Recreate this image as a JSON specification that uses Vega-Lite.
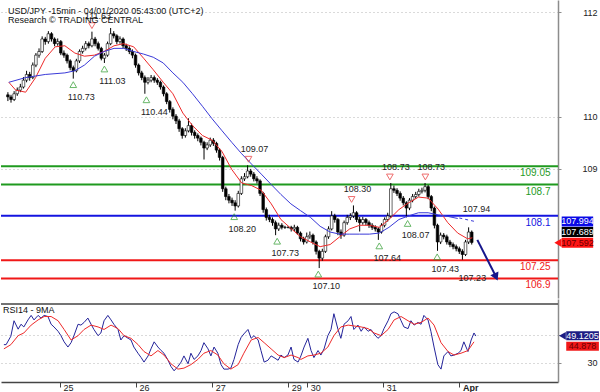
{
"$schema":"https://vega.github.io/schema/vega-lite/v6.json",
"padding":0,
"spacing":1,
"background":"white",
"config":{"view":{"stroke":null},"font":"Liberation Sans","axis":{"labelFont":"Liberation Sans","labelFontSize":9,"labelColor":"#222222","domainColor":"#8c8c8c","tickColor":"#8c8c8c","gridColor":"#b4b4b4","gridDash":[1,3]},"text":{"font":"Liberation Sans"}},
"datasets":{
"candles":[
{"t":-18,"o":110.42,"h":110.47,"l":110.30,"c":110.38},{"t":-17,"o":110.38,"h":110.42,"l":110.27,"c":110.33},{"t":-16,"o":110.33,"h":110.49,"l":110.30,"c":110.44},{"t":-15,"o":110.44,"h":110.56,"l":110.40,"c":110.51},{"t":-14,"o":110.51,"h":110.63,"l":110.47,"c":110.57},{"t":-13,"o":110.57,"h":110.76,"l":110.54,"c":110.70},{"t":-12,"o":110.70,"h":110.88,"l":110.66,"c":110.81},{"t":-11,"o":110.81,"h":110.86,"l":110.69,"c":110.75},{"t":-10,"o":110.75,"h":111.04,"l":110.72,"c":110.99},{"t":-9,"o":110.99,"h":111.22,"l":110.95,"c":111.18},{"t":-8,"o":111.18,"h":111.31,"l":111.13,"c":111.25},{"t":-7,"o":111.25,"h":111.54,"l":111.22,"c":111.49},{"t":-6,"o":111.49,"h":111.53,"l":111.38,"c":111.44},{"t":-5,"o":111.44,"h":111.64,"l":111.40,"c":111.59},{"t":-4,"o":111.59,"h":111.62,"l":111.44,"c":111.49},{"t":-3,"o":111.49,"h":111.52,"l":111.35,"c":111.40},{"t":-2,"o":111.40,"h":111.50,"l":111.36,"c":111.44},{"t":-1,"o":111.44,"h":111.47,"l":111.18,"c":111.22},
{"t":0,"o":111.22,"h":111.27,"l":111.13,"c":111.18},{"t":1,"o":111.18,"h":111.21,"l":111.02,"c":111.07},{"t":2,"o":111.07,"h":111.10,"l":110.89,"c":110.94},{"t":3,"o":110.94,"h":110.98,"l":110.73,"c":110.88},{"t":4,"o":110.88,"h":111.11,"l":110.85,"c":111.07},{"t":5,"o":111.07,"h":111.29,"l":111.03,"c":111.25},{"t":6,"o":111.25,"h":111.36,"l":111.21,"c":111.31},{"t":7,"o":111.31,"h":111.45,"l":111.27,"c":111.40},{"t":8,"o":111.40,"h":111.44,"l":111.31,"c":111.36},{"t":9,"o":111.36,"h":111.63,"l":111.33,"c":111.49},{"t":10,"o":111.49,"h":111.53,"l":111.35,"c":111.40},{"t":11,"o":111.40,"h":111.44,"l":111.27,"c":111.31},{"t":12,"o":111.31,"h":111.34,"l":111.08,"c":111.12},{"t":13,"o":111.12,"h":111.22,"l":111.03,"c":111.18},{"t":14,"o":111.18,"h":111.44,"l":111.15,"c":111.40},{"t":15,"o":111.40,"h":111.70,"l":111.37,"c":111.59},{"t":16,"o":111.59,"h":111.64,"l":111.50,"c":111.55},{"t":17,"o":111.55,"h":111.58,"l":111.39,"c":111.44},{"t":18,"o":111.44,"h":111.54,"l":111.40,"c":111.49},{"t":19,"o":111.49,"h":111.52,"l":111.31,"c":111.36},
{"t":20,"o":111.36,"h":111.40,"l":111.26,"c":111.31},{"t":21,"o":111.31,"h":111.35,"l":111.20,"c":111.25},{"t":22,"o":111.25,"h":111.29,"l":111.12,"c":111.18},{"t":23,"o":111.18,"h":111.21,"l":110.94,"c":110.99},{"t":24,"o":110.99,"h":111.02,"l":110.79,"c":110.84},{"t":25,"o":110.84,"h":110.88,"l":110.70,"c":110.75},{"t":26,"o":110.75,"h":110.79,"l":110.44,"c":110.66},{"t":27,"o":110.66,"h":110.76,"l":110.62,"c":110.70},{"t":28,"o":110.70,"h":110.80,"l":110.66,"c":110.75},{"t":29,"o":110.75,"h":110.79,"l":110.65,"c":110.70},{"t":30,"o":110.70,"h":110.74,"l":110.61,"c":110.66},{"t":31,"o":110.66,"h":110.69,"l":110.52,"c":110.57},{"t":32,"o":110.57,"h":110.60,"l":110.39,"c":110.44},{"t":33,"o":110.44,"h":110.47,"l":110.24,"c":110.29},{"t":34,"o":110.29,"h":110.32,"l":110.08,"c":110.14},{"t":35,"o":110.14,"h":110.18,"l":109.95,"c":110.01},{"t":36,"o":110.01,"h":110.05,"l":109.86,"c":109.92},{"t":37,"o":109.92,"h":109.96,"l":109.71,"c":109.77},{"t":38,"o":109.77,"h":109.80,"l":109.58,"c":109.64},{"t":39,"o":109.64,"h":109.78,"l":109.60,"c":109.73},
{"t":40,"o":109.73,"h":109.97,"l":109.70,"c":109.83},{"t":41,"o":109.83,"h":109.87,"l":109.64,"c":109.70},{"t":42,"o":109.70,"h":109.74,"l":109.58,"c":109.64},{"t":43,"o":109.64,"h":109.68,"l":109.53,"c":109.59},{"t":44,"o":109.59,"h":109.62,"l":109.45,"c":109.51},{"t":45,"o":109.51,"h":109.54,"l":109.18,"c":109.40},{"t":46,"o":109.40,"h":109.51,"l":109.36,"c":109.46},{"t":47,"o":109.46,"h":109.60,"l":109.42,"c":109.55},{"t":48,"o":109.55,"h":109.59,"l":109.44,"c":109.49},{"t":49,"o":109.49,"h":109.52,"l":109.31,"c":109.36},{"t":50,"o":109.36,"h":109.40,"l":109.16,"c":109.22},{"t":51,"o":109.22,"h":109.25,"l":108.56,"c":108.62},{"t":52,"o":108.62,"h":108.66,"l":108.40,"c":108.47},{"t":53,"o":108.47,"h":108.52,"l":108.34,"c":108.40},{"t":54,"o":108.40,"h":108.45,"l":108.29,"c":108.35},{"t":55,"o":108.35,"h":108.40,"l":108.20,"c":108.29},{"t":56,"o":108.29,"h":108.58,"l":108.26,"c":108.53},{"t":57,"o":108.53,"h":108.86,"l":108.50,"c":108.81},{"t":58,"o":108.81,"h":108.92,"l":108.77,"c":108.85},{"t":59,"o":108.85,"h":109.07,"l":108.82,"c":108.96},
{"t":60,"o":108.96,"h":109.00,"l":108.85,"c":108.90},{"t":61,"o":108.90,"h":108.94,"l":108.76,"c":108.81},{"t":62,"o":108.81,"h":108.86,"l":108.72,"c":108.77},{"t":63,"o":108.77,"h":108.80,"l":108.48,"c":108.53},{"t":64,"o":108.53,"h":108.56,"l":108.16,"c":108.22},{"t":65,"o":108.22,"h":108.26,"l":108.01,"c":108.07},{"t":66,"o":108.07,"h":108.12,"l":107.98,"c":108.03},{"t":67,"o":108.03,"h":108.07,"l":107.91,"c":107.97},{"t":68,"o":107.97,"h":108.01,"l":107.73,"c":107.85},{"t":69,"o":107.85,"h":107.97,"l":107.81,"c":107.92},{"t":70,"o":107.92,"h":107.96,"l":107.84,"c":107.88},{"t":71,"o":107.88,"h":107.91,"l":107.85,"c":107.88},{"t":72,"o":107.88,"h":107.90,"l":107.86,"c":107.88},{"t":73,"o":107.88,"h":107.91,"l":107.80,"c":107.85},{"t":74,"o":107.85,"h":107.93,"l":107.81,"c":107.88},{"t":75,"o":107.88,"h":107.91,"l":107.74,"c":107.77},{"t":76,"o":107.77,"h":107.80,"l":107.61,"c":107.66},{"t":77,"o":107.66,"h":107.70,"l":107.55,"c":107.60},{"t":78,"o":107.60,"h":107.78,"l":107.57,"c":107.70},{"t":79,"o":107.70,"h":107.80,"l":107.66,"c":107.73},
{"t":80,"o":107.73,"h":107.76,"l":107.55,"c":107.60},{"t":81,"o":107.60,"h":107.63,"l":107.36,"c":107.42},{"t":82,"o":107.42,"h":107.45,"l":107.10,"c":107.29},{"t":83,"o":107.29,"h":107.47,"l":107.24,"c":107.42},{"t":84,"o":107.42,"h":107.74,"l":107.39,"c":107.70},{"t":85,"o":107.70,"h":107.90,"l":107.66,"c":107.85},{"t":86,"o":107.85,"h":108.19,"l":107.82,"c":108.10},{"t":87,"o":108.10,"h":108.14,"l":107.97,"c":108.03},{"t":88,"o":108.03,"h":108.06,"l":107.73,"c":107.79},{"t":89,"o":107.79,"h":107.84,"l":107.66,"c":107.73},{"t":90,"o":107.73,"h":108.01,"l":107.70,"c":107.97},{"t":91,"o":107.97,"h":108.12,"l":107.93,"c":108.07},{"t":92,"o":108.07,"h":108.15,"l":108.02,"c":108.10},{"t":93,"o":108.10,"h":108.30,"l":108.06,"c":108.16},{"t":94,"o":108.16,"h":108.19,"l":107.98,"c":108.03},{"t":95,"o":108.03,"h":108.08,"l":107.80,"c":107.97},{"t":96,"o":107.97,"h":108.08,"l":107.93,"c":108.03},{"t":97,"o":108.03,"h":108.06,"l":107.92,"c":107.97},{"t":98,"o":107.97,"h":108.01,"l":107.87,"c":107.92},{"t":99,"o":107.92,"h":107.96,"l":107.83,"c":107.88},
{"t":100,"o":107.88,"h":107.92,"l":107.80,"c":107.85},{"t":101,"o":107.85,"h":107.88,"l":107.64,"c":107.79},{"t":102,"o":107.79,"h":107.96,"l":107.76,"c":107.92},{"t":103,"o":107.92,"h":108.07,"l":107.88,"c":108.03},{"t":104,"o":108.03,"h":108.16,"l":107.99,"c":108.10},{"t":105,"o":108.10,"h":108.73,"l":108.06,"c":108.62},{"t":106,"o":108.62,"h":108.68,"l":108.54,"c":108.59},{"t":107,"o":108.59,"h":108.63,"l":108.48,"c":108.53},{"t":108,"o":108.53,"h":108.57,"l":108.39,"c":108.44},{"t":109,"o":108.44,"h":108.48,"l":108.30,"c":108.35},{"t":110,"o":108.35,"h":108.38,"l":108.07,"c":108.25},{"t":111,"o":108.25,"h":108.44,"l":108.21,"c":108.40},{"t":112,"o":108.40,"h":108.52,"l":108.36,"c":108.47},{"t":113,"o":108.47,"h":108.56,"l":108.43,"c":108.51},{"t":114,"o":108.51,"h":108.62,"l":108.47,"c":108.57},{"t":115,"o":108.57,"h":108.64,"l":108.53,"c":108.59},{"t":116,"o":108.59,"h":108.73,"l":108.55,"c":108.66},{"t":117,"o":108.66,"h":108.69,"l":108.42,"c":108.47},{"t":118,"o":108.47,"h":108.50,"l":108.19,"c":108.25},{"t":119,"o":108.25,"h":108.28,"l":107.86,"c":107.92},
{"t":120,"o":107.92,"h":107.95,"l":107.43,"c":107.60},{"t":121,"o":107.60,"h":107.78,"l":107.56,"c":107.73},{"t":122,"o":107.73,"h":107.77,"l":107.65,"c":107.70},{"t":123,"o":107.70,"h":107.74,"l":107.55,"c":107.60},{"t":124,"o":107.60,"h":107.64,"l":107.50,"c":107.55},{"t":125,"o":107.55,"h":107.59,"l":107.46,"c":107.51},{"t":126,"o":107.51,"h":107.55,"l":107.42,"c":107.47},{"t":127,"o":107.47,"h":107.51,"l":107.37,"c":107.42},{"t":128,"o":107.42,"h":107.46,"l":107.26,"c":107.36},{"t":129,"o":107.36,"h":107.64,"l":107.33,"c":107.60},{"t":130,"o":107.60,"h":107.88,"l":107.56,"c":107.79},{"t":131,"o":107.79,"h":107.82,"l":107.55,"c":107.59}
],
"redma":[{"t":-17.7,"p":110.66},{"t":-15.5,"p":110.51},{"t":-12.3,"p":110.47},{"t":-9.1,"p":110.75},{"t":-6.0,"p":111.12},{"t":-2.8,"p":111.34},{"t":0.3,"p":111.36},{"t":3.5,"p":111.22},{"t":6.6,"p":111.16},{"t":9.8,"p":111.18},{"t":12.9,"p":111.25},{"t":16.1,"p":111.36},{"t":19.2,"p":111.40},{"t":22.4,"p":111.34},{"t":25.6,"p":111.12},{"t":28.7,"p":110.90},{"t":31.9,"p":110.66},{"t":35.0,"p":110.44},{"t":38.2,"p":110.07},{"t":41.3,"p":109.83},{"t":44.5,"p":109.64},{"t":47.6,"p":109.55},{"t":50.8,"p":109.33},{"t":53.9,"p":108.99},{"t":57.1,"p":108.73},{"t":60.3,"p":108.68},{"t":63.4,"p":108.59},{"t":66.6,"p":108.33},{"t":69.7,"p":108.03},{"t":72.9,"p":107.86},{"t":76.0,"p":107.70},{"t":79.2,"p":107.60},{"t":82.3,"p":107.51},{"t":85.5,"p":107.55},{"t":88.6,"p":107.70},{"t":91.8,"p":107.85},{"t":95.0,"p":107.92},{"t":98.1,"p":107.92},{"t":101.3,"p":107.88},{"t":104.4,"p":108.03},{"t":107.6,"p":108.22},{"t":110.7,"p":108.35},{"t":113.9,"p":108.46},{"t":117.0,"p":108.44},{"t":120.2,"p":108.23},{"t":123.3,"p":107.97},{"t":126.5,"p":107.77},{"t":129.7,"p":107.66},{"t":131.2,"p":107.68}],
"bluema":[{"t":-17.7,"p":110.66},{"t":-12.3,"p":110.75},{"t":-6.0,"p":110.81},{"t":0.3,"p":110.84},{"t":3.5,"p":110.88},{"t":6.6,"p":110.99},{"t":9.8,"p":111.16},{"t":12.9,"p":111.25},{"t":16.1,"p":111.31},{"t":19.2,"p":111.31},{"t":22.4,"p":111.25},{"t":25.6,"p":111.20},{"t":28.7,"p":111.14},{"t":31.9,"p":111.03},{"t":35.0,"p":110.84},{"t":38.2,"p":110.66},{"t":41.3,"p":110.44},{"t":44.5,"p":110.20},{"t":47.6,"p":109.96},{"t":50.8,"p":109.73},{"t":53.9,"p":109.51},{"t":57.1,"p":109.29},{"t":60.3,"p":109.09},{"t":63.4,"p":108.90},{"t":66.6,"p":108.70},{"t":69.7,"p":108.51},{"t":72.9,"p":108.33},{"t":76.0,"p":108.20},{"t":79.2,"p":108.07},{"t":82.3,"p":107.90},{"t":85.5,"p":107.79},{"t":88.6,"p":107.75},{"t":91.8,"p":107.75},{"t":95.0,"p":107.75},{"t":98.1,"p":107.75},{"t":101.3,"p":107.77},{"t":104.4,"p":107.88},{"t":107.6,"p":108.03},{"t":110.7,"p":108.10},{"t":113.9,"p":108.16},{"t":117.0,"p":108.16},{"t":120.2,"p":108.12},{"t":123.3,"p":108.09},{"t":126.5,"p":108.05}],
"blueproj":[{"t":127.0,"p":108.06},{"t":132.2,"p":107.99}],
"levels":[{"p":109.05,"kind":"resistance","label":"109.05"},{"p":108.7,"kind":"resistance","label":"108.7"},{"p":108.1,"kind":"pivot","label":"108.1"},{"p":107.25,"kind":"support","label":"107.25"},{"p":106.9,"kind":"support","label":"106.9"}],
"lows":[{"t":3,"p":110.73,"label":"110.73"},{"t":13,"p":111.03,"label":"111.03"},{"t":26.5,"p":110.44,"label":"110.44"},{"t":54.7,"p":108.20,"label":"108.20"},{"t":68.5,"p":107.73,"label":"107.73"},{"t":81.7,"p":107.10,"label":"107.10"},{"t":101.3,"p":107.64,"label":"107.64"},{"t":110.4,"p":108.07,"label":"108.07"},{"t":119.9,"p":107.43,"label":"107.43"}],
"highs":[{"t":9,"p":111.63,"label":"111.63"},{"t":59.3,"p":109.07,"label":"109.07"},{"t":92.4,"p":108.30,"label":"108.30"},{"t":104.7,"p":108.73,"label":"108.73"},{"t":116.1,"p":108.73,"label":"108.73"}],
"targets":[{"t":132.5,"p":108.23,"label":"107.94"},{"t":131.2,"p":106.90,"label":"107.23"}],
"arrow":[{"t":132.8,"p":107.64,"t2":138.4,"p2":106.98}],
"arrowhead":[{"t":138.8,"p":106.93}],
"titles":[{"t":-18.0,"p":112.03,"text":"USD/JPY -15min - 04/01/2020 05:43:00 (UTC+2)"},{"t":-18.0,"p":111.845,"text":"Research © TRADING CENTRAL"}],
"mainboxes":[{"value":"107.994","at":107.994,"kind":"ma_slow"},{"value":"107.689","at":107.79,"kind":"ma_fast"},{"value":"107.592","at":107.585,"kind":"price"}],
"rsi":[{"t":-17.7,"r":43},{"t":-17.0,"r":43},{"t":-15.5,"r":49},{"t":-14.5,"r":60},{"t":-13.2,"r":54},{"t":-12.3,"r":57.5},{"t":-11.4,"r":55.6},{"t":-10.1,"r":60.6},{"t":-9.1,"r":63.8},{"t":-8.2,"r":60.6},{"t":-6.9,"r":63.8},{"t":-6.0,"r":61.9},{"t":-5.0,"r":63.8},{"t":-3.8,"r":63},{"t":-2.8,"r":57.5},{"t":-1.9,"r":55.6},{"t":-0.6,"r":52.5},{"t":0.3,"r":49.4},{"t":1.3,"r":45},{"t":2.5,"r":41.3},{"t":3.5,"r":44.4},{"t":4.4,"r":49.4},{"t":5.7,"r":57.5},{"t":6.6,"r":56.9},{"t":7.6,"r":58.8},{"t":8.8,"r":61.9},{"t":9.8,"r":57.5},{"t":10.7,"r":53.8},{"t":12.0,"r":49.4},{"t":12.9,"r":51.3},{"t":13.9,"r":60},{"t":15.1,"r":63.8},{"t":16.1,"r":60.6},{"t":17.0,"r":57.5},{"t":18.3,"r":53.8},{"t":19.2,"r":46.3},{"t":20.2,"r":49.4},{"t":21.5,"r":47.5},{"t":22.4,"r":46.3},{"t":23.3,"r":41.3},{"t":24.6,"r":36.9},{"t":25.6,"r":33.8},{"t":26.5,"r":30.6},{"t":27.8,"r":35},{"t":28.7,"r":40},{"t":29.7,"r":45},{"t":30.9,"r":41.3},{"t":31.9,"r":38.8},{"t":32.8,"r":36.9},{"t":34.1,"r":31.9},{"t":35.0,"r":27.5},{"t":36.0,"r":24.4},{"t":37.2,"r":27.5},{"t":38.2,"r":30.6},{"t":39.1,"r":35},{"t":40.4,"r":29.4},{"t":41.3,"r":36.9},{"t":42.3,"r":32.5},{"t":43.5,"r":35},{"t":44.5,"r":38.8},{"t":45.4,"r":44.4},{"t":46.7,"r":40},{"t":47.6,"r":35},{"t":48.6,"r":41.3},{"t":49.8,"r":36.9},{"t":50.8,"r":28.8},{"t":51.7,"r":25.6},{"t":53.0,"r":25.6},{"t":53.9,"r":26.3},{"t":54.9,"r":32.5},{"t":56.2,"r":43},{"t":57.1,"r":48},{"t":58.0,"r":50.6},{"t":59.3,"r":53.8},{"t":60.3,"r":47.5},{"t":61.2,"r":49.4},{"t":62.5,"r":46.3},{"t":63.4,"r":38.8},{"t":64.4,"r":30.6},{"t":65.6,"r":31.9},{"t":66.6,"r":35},{"t":67.5,"r":33.8},{"t":68.8,"r":31.9},{"t":69.7,"r":35.6},{"t":70.7,"r":33.8},{"t":71.9,"r":35.6},{"t":72.9,"r":41.3},{"t":73.8,"r":32.5},{"t":75.1,"r":30.6},{"t":76.0,"r":35},{"t":77.0,"r":41.3},{"t":78.2,"r":47.5},{"t":79.2,"r":38.8},{"t":80.1,"r":33.8},{"t":81.4,"r":38.8},{"t":82.3,"r":35.6},{"t":83.3,"r":40},{"t":84.5,"r":49.4},{"t":85.5,"r":53.8},{"t":86.4,"r":65},{"t":87.7,"r":53.8},{"t":88.6,"r":47.5},{"t":89.6,"r":57.5},{"t":90.9,"r":60},{"t":91.8,"r":63},{"t":92.7,"r":53.8},{"t":94.0,"r":56.9},{"t":95.0,"r":52.5},{"t":95.9,"r":55.6},{"t":97.2,"r":52.5},{"t":98.1,"r":53.8},{"t":99.1,"r":50.6},{"t":100.3,"r":47.5},{"t":101.3,"r":49.4},{"t":102.2,"r":54.4},{"t":103.5,"r":60},{"t":104.4,"r":65},{"t":105.4,"r":66.3},{"t":106.6,"r":65},{"t":107.6,"r":60},{"t":108.5,"r":55.6},{"t":109.8,"r":54.4},{"t":110.7,"r":60},{"t":111.7,"r":56.9},{"t":112.9,"r":58.8},{"t":113.9,"r":57.5},{"t":114.8,"r":63.8},{"t":116.1,"r":60.6},{"t":117.0,"r":52.5},{"t":118.0,"r":41.3},{"t":119.2,"r":28.8},{"t":120.2,"r":25.6},{"t":121.1,"r":35},{"t":122.4,"r":38.1},{"t":123.3,"r":35},{"t":124.3,"r":35.6},{"t":125.6,"r":36.9},{"t":126.5,"r":38.8},{"t":127.4,"r":45},{"t":128.7,"r":38.1},{"t":129.7,"r":46.3},{"t":130.6,"r":51.3},{"t":131.2,"r":49.1}],
"rsima":[{"t":-17.7,"r":40},{"t":-15.5,"r":43},{"t":-13.2,"r":49.4},{"t":-11.4,"r":51.3},{"t":-9.1,"r":56.9},{"t":-6.9,"r":60.6},{"t":-5.0,"r":63},{"t":-2.8,"r":63},{"t":-0.6,"r":60},{"t":1.3,"r":53.8},{"t":3.5,"r":46.3},{"t":5.7,"r":49.4},{"t":7.6,"r":53.8},{"t":9.8,"r":56.9},{"t":12.0,"r":55.6},{"t":13.9,"r":53.8},{"t":16.1,"r":56.9},{"t":18.3,"r":54.4},{"t":20.2,"r":49.4},{"t":22.4,"r":47.5},{"t":24.6,"r":43.1},{"t":26.5,"r":38.1},{"t":28.7,"r":35},{"t":30.9,"r":38.8},{"t":32.8,"r":35.6},{"t":35.0,"r":29.4},{"t":37.2,"r":25.6},{"t":39.1,"r":26.3},{"t":41.3,"r":28.8},{"t":43.5,"r":32.5},{"t":45.4,"r":36.9},{"t":47.6,"r":38.8},{"t":49.8,"r":35.6},{"t":51.7,"r":29.4},{"t":53.9,"r":25.6},{"t":56.2,"r":28.8},{"t":58.0,"r":36.9},{"t":60.3,"r":46.3},{"t":62.5,"r":48.1},{"t":64.4,"r":44.4},{"t":66.6,"r":40},{"t":68.8,"r":35.6},{"t":70.7,"r":33.8},{"t":72.9,"r":35.6},{"t":75.1,"r":33.8},{"t":76.0,"r":32.5},{"t":78.2,"r":35},{"t":80.1,"r":35.6},{"t":82.3,"r":36.9},{"t":84.5,"r":41.3},{"t":86.4,"r":49.4},{"t":88.6,"r":55.6},{"t":90.9,"r":56.9},{"t":92.7,"r":56.3},{"t":95.0,"r":55.6},{"t":97.2,"r":54.4},{"t":99.1,"r":51.3},{"t":101.3,"r":49.4},{"t":103.5,"r":53.8},{"t":105.4,"r":60.6},{"t":107.6,"r":63},{"t":109.8,"r":60},{"t":111.7,"r":57.5},{"t":113.9,"r":58.8},{"t":116.1,"r":61.9},{"t":118.0,"r":56.9},{"t":120.2,"r":44.4},{"t":122.4,"r":38.1},{"t":124.3,"r":35.6},{"t":126.5,"r":36.9},{"t":128.7,"r":38.8},{"t":130.6,"r":45}],
"rsiboxes":[{"value":"49.1205","at":49.3,"kind":"rsi"},{"value":"44.878","at":41.9,"kind":"rsima"}],
"one":[{}]
},
"vconcat":[
{"width":557,"height":298,"layer":[
{"data":{"name":"levels"},"mark":{"type":"rule","strokeWidth":2},"encoding":{
"y":{"field":"p","type":"quantitative","scale":{"domain":[106.622,112.141],"nice":false,"zero":false},"axis":{"orient":"right","values":[109,110,112],"grid":true,"tickSize":3,"labelAlign":"right","labelPadding":36,"labelBaseline":"middle","title":null,"domainColor":"#8c8c8c","domainWidth":1.5}},
"color":{"field":"kind","type":"nominal","scale":{"domain":["resistance","pivot","support","ma_slow","ma_fast","price","rsi","rsima"],"range":["#1f9a1f","#1414e0","#f01818","#0a0ae6","#000000","#ff1414","#1c1c84","#f01818"]},"legend":null}}},
{"data":{"name":"levels"},"mark":{"type":"text","align":"right","baseline":"middle","dy":7,"fontSize":10},"encoding":{
"x":{"datum":156.3,"type":"quantitative","scale":{"domain":[-18.61,157.1],"nice":false,"zero":false},"axis":null},
"y":{"field":"p","type":"quantitative","scale":{"domain":[106.622,112.141],"nice":false,"zero":false}},
"text":{"field":"label"},
"color":{"field":"kind","type":"nominal","scale":{"domain":["resistance","pivot","support","ma_slow","ma_fast","price","rsi","rsima"],"range":["#1f9a1f","#1414e0","#f01818","#0a0ae6","#000000","#ff1414","#1c1c84","#f01818"]},"legend":null}}},
{"data":{"name":"candles"},"mark":{"type":"rule","color":"#000000","strokeWidth":1},"encoding":{
"x":{"field":"t","type":"quantitative","scale":{"domain":[-18.61,157.1],"nice":false,"zero":false},"axis":null},
"y":{"field":"l","type":"quantitative","scale":{"domain":[106.622,112.141],"nice":false,"zero":false}},
"y2":{"field":"h"}}},
{"data":{"name":"candles"},"mark":{"type":"bar","size":2.6,"stroke":"#000000","strokeWidth":0.6},"encoding":{
"x":{"field":"t","type":"quantitative","scale":{"domain":[-18.61,157.1],"nice":false,"zero":false},"axis":null},
"y":{"field":"o","type":"quantitative","scale":{"domain":[106.622,112.141],"nice":false,"zero":false}},
"y2":{"field":"c"},
"fill":{"condition":{"test":"datum.c >= datum.o","value":"#ffffff"},"value":"#000000"}}},
{"data":{"name":"redma"},"mark":{"type":"line","color":"#ee2a2a","strokeWidth":1},"encoding":{
"x":{"field":"t","type":"quantitative","scale":{"domain":[-18.61,157.1],"nice":false,"zero":false},"axis":null},
"y":{"field":"p","type":"quantitative","scale":{"domain":[106.622,112.141],"nice":false,"zero":false}}}},
{"data":{"name":"bluema"},"mark":{"type":"line","color":"#3a3ad8","strokeWidth":1},"encoding":{
"x":{"field":"t","type":"quantitative","scale":{"domain":[-18.61,157.1],"nice":false,"zero":false},"axis":null},
"y":{"field":"p","type":"quantitative","scale":{"domain":[106.622,112.141],"nice":false,"zero":false}}}},
{"data":{"name":"blueproj"},"mark":{"type":"line","color":"#3a3ad8","strokeWidth":1,"strokeDash":[3,3]},"encoding":{
"x":{"field":"t","type":"quantitative","scale":{"domain":[-18.61,157.1],"nice":false,"zero":false},"axis":null},
"y":{"field":"p","type":"quantitative","scale":{"domain":[106.622,112.141],"nice":false,"zero":false}}}},
{"data":{"name":"lows"},"mark":{"type":"point","shape":"triangle-up","filled":false,"stroke":"#2a9a2a","strokeWidth":1,"size":45,"yOffset":6},"encoding":{
"x":{"field":"t","type":"quantitative","scale":{"domain":[-18.61,157.1],"nice":false,"zero":false},"axis":null},
"y":{"field":"p","type":"quantitative","scale":{"domain":[106.622,112.141],"nice":false,"zero":false}}}},
{"data":{"name":"lows"},"mark":{"type":"text","fontSize":9,"dx":8,"dy":18,"color":"#222222","baseline":"middle"},"encoding":{
"x":{"field":"t","type":"quantitative","scale":{"domain":[-18.61,157.1],"nice":false,"zero":false},"axis":null},
"y":{"field":"p","type":"quantitative","scale":{"domain":[106.622,112.141],"nice":false,"zero":false}},
"text":{"field":"label"}}},
{"data":{"name":"highs"},"mark":{"type":"point","shape":"triangle-down","filled":false,"stroke":"#e83030","strokeWidth":1,"size":45,"yOffset":-6},"encoding":{
"x":{"field":"t","type":"quantitative","scale":{"domain":[-18.61,157.1],"nice":false,"zero":false},"axis":null},
"y":{"field":"p","type":"quantitative","scale":{"domain":[106.622,112.141],"nice":false,"zero":false}}}},
{"data":{"name":"highs"},"mark":{"type":"text","fontSize":9,"dx":6,"dy":-16,"color":"#222222","baseline":"middle"},"encoding":{
"x":{"field":"t","type":"quantitative","scale":{"domain":[-18.61,157.1],"nice":false,"zero":false},"axis":null},
"y":{"field":"p","type":"quantitative","scale":{"domain":[106.622,112.141],"nice":false,"zero":false}},
"text":{"field":"label"}}},
{"data":{"name":"targets"},"mark":{"type":"text","fontSize":9,"color":"#222222","baseline":"middle"},"encoding":{
"x":{"field":"t","type":"quantitative","scale":{"domain":[-18.61,157.1],"nice":false,"zero":false},"axis":null},
"y":{"field":"p","type":"quantitative","scale":{"domain":[106.622,112.141],"nice":false,"zero":false}},
"text":{"field":"label"}}},
{"data":{"name":"arrow"},"mark":{"type":"rule","color":"#16168c","strokeWidth":2},"encoding":{
"x":{"field":"t","type":"quantitative","scale":{"domain":[-18.61,157.1],"nice":false,"zero":false},"axis":null},
"y":{"field":"p","type":"quantitative","scale":{"domain":[106.622,112.141],"nice":false,"zero":false}},
"x2":{"field":"t2"},"y2":{"field":"p2"}}},
{"data":{"name":"arrowhead"},"mark":{"type":"point","shape":"triangle-down","filled":true,"color":"#16168c","size":80,"angle":335,"opacity":1},"encoding":{
"x":{"field":"t","type":"quantitative","scale":{"domain":[-18.61,157.1],"nice":false,"zero":false},"axis":null},
"y":{"field":"p","type":"quantitative","scale":{"domain":[106.622,112.141],"nice":false,"zero":false}}}},
{"data":{"name":"mainboxes"},"mark":{"type":"bar","orient":"horizontal","size":10},"encoding":{
"x":{"datum":159.9,"type":"quantitative","scale":{"domain":[-18.61,157.1],"nice":false,"zero":false},"axis":null},
"x2":{"datum":170.0},
"y":{"field":"at","type":"quantitative","scale":{"domain":[106.622,112.141],"nice":false,"zero":false}},
"color":{"field":"kind","type":"nominal","scale":{"domain":["resistance","pivot","support","ma_slow","ma_fast","price","rsi","rsima"],"range":["#1f9a1f","#1414e0","#f01818","#0a0ae6","#000000","#ff1414","#1c1c84","#f01818"]},"legend":null}}},
{"data":{"name":"mainboxes"},"transform":[{"filter":"datum.kind === 'price'"}],"mark":{"type":"point","shape":"triangle-left","filled":true,"color":"#ff1414","size":70,"opacity":1},"encoding":{
"x":{"datum":158.7,"type":"quantitative","scale":{"domain":[-18.61,157.1],"nice":false,"zero":false},"axis":null},
"y":{"field":"at","type":"quantitative","scale":{"domain":[106.622,112.141],"nice":false,"zero":false}}}},
{"data":{"name":"mainboxes"},"mark":{"type":"text","fontSize":9,"align":"center","baseline":"middle"},"encoding":{
"x":{"datum":165.0,"type":"quantitative","scale":{"domain":[-18.61,157.1],"nice":false,"zero":false},"axis":null},
"y":{"field":"at","type":"quantitative","scale":{"domain":[106.622,112.141],"nice":false,"zero":false}},
"text":{"field":"value"},
"fill":{"condition":{"test":"datum.kind === 'price'","value":"#6a0000"},"value":"#ffffff"}}},
{"data":{"name":"titles"},"mark":{"type":"text","fontSize":9,"align":"left","baseline":"middle","color":"#111111"},"encoding":{
"x":{"field":"t","type":"quantitative","scale":{"domain":[-18.61,157.1],"nice":false,"zero":false},"axis":null},
"y":{"field":"p","type":"quantitative","scale":{"domain":[106.622,112.141],"nice":false,"zero":false}},
"text":{"field":"text"}}}
]},
{"width":557,"height":83,"layer":[
{"data":{"name":"rsi"},"mark":{"type":"line","color":"#24249a","strokeWidth":1},"encoding":{
"x":{"field":"t","type":"quantitative","scale":{"domain":[-18.61,157.1],"nice":false,"zero":false},"axis":{"orient":"bottom","values":[0,24,48,72,78,102,126],"labelExpr":"datum.value==0?'25':datum.value==24?'26':datum.value==48?'27':datum.value==72?'29':datum.value==78?'30':datum.value==102?'31':'Apr'","labelAlign":"left","labelOffset":3,"labelBaseline":"middle","labelPadding":0,"tickSize":5,"domainColor":"#444444","domainWidth":1.5,"tickColor":"#444444","grid":false,"labelOverlap":false,"labelFontSize":9,"labelFontWeight":{"condition":{"test":"datum.value==126","value":"bold"},"value":"normal"},"title":null}},
"y":{"field":"r","type":"quantitative","scale":{"domain":[20,71.9],"nice":false,"zero":false},"axis":{"orient":"right","values":[30,50],"grid":true,"labelExpr":"datum.value==50?'':datum.label","tickSize":3,"labelAlign":"right","labelPadding":36,"labelBaseline":"middle","title":null,"domainColor":"#8c8c8c","domainWidth":1.5}}}},
{"data":{"name":"rsima"},"mark":{"type":"line","color":"#ee2a2a","strokeWidth":1},"encoding":{
"x":{"field":"t","type":"quantitative","scale":{"domain":[-18.61,157.1],"nice":false,"zero":false}},
"y":{"field":"r","type":"quantitative","scale":{"domain":[20,71.9],"nice":false,"zero":false}}}},
{"data":{"name":"one"},"mark":{"type":"rule","color":"#444444","strokeWidth":1.5},"encoding":{
"y":{"datum":71.9,"type":"quantitative","scale":{"domain":[20,71.9],"nice":false,"zero":false}}}},
{"data":{"name":"one"},"mark":{"type":"text","fontSize":9,"align":"left","baseline":"middle","color":"#111111","text":"RSI14 - 9MA"},"encoding":{
"x":{"datum":-18.0,"type":"quantitative","scale":{"domain":[-18.61,157.1],"nice":false,"zero":false}},
"y":{"datum":67.5,"type":"quantitative","scale":{"domain":[20,71.9],"nice":false,"zero":false}}}},
{"data":{"name":"rsiboxes"},"mark":{"type":"bar","orient":"horizontal","size":9},"encoding":{
"x":{"datum":159.7,"type":"quantitative","scale":{"domain":[-18.61,157.1],"nice":false,"zero":false}},
"x2":{"datum":170.0},
"y":{"field":"at","type":"quantitative","scale":{"domain":[20,71.9],"nice":false,"zero":false}},
"color":{"field":"kind","type":"nominal","scale":{"domain":["resistance","pivot","support","ma_slow","ma_fast","price","rsi","rsima"],"range":["#1f9a1f","#1414e0","#f01818","#0a0ae6","#000000","#ff1414","#1c1c84","#f01818"]},"legend":null}}},
{"data":{"name":"rsiboxes"},"transform":[{"filter":"datum.kind === 'rsi'"}],"mark":{"type":"point","shape":"triangle-left","filled":true,"color":"#1c1c84","size":60,"opacity":1},"encoding":{
"x":{"datum":158.5,"type":"quantitative","scale":{"domain":[-18.61,157.1],"nice":false,"zero":false}},
"y":{"field":"at","type":"quantitative","scale":{"domain":[20,71.9],"nice":false,"zero":false}}}},
{"data":{"name":"rsiboxes"},"mark":{"type":"text","fontSize":9,"align":"center","baseline":"middle"},"encoding":{
"x":{"datum":164.8,"type":"quantitative","scale":{"domain":[-18.61,157.1],"nice":false,"zero":false}},
"y":{"field":"at","type":"quantitative","scale":{"domain":[20,71.9],"nice":false,"zero":false}},
"text":{"field":"value"},
"fill":{"condition":{"test":"datum.kind === 'rsima'","value":"#6a0000"},"value":"#ffffff"}}}
]}
]
}
